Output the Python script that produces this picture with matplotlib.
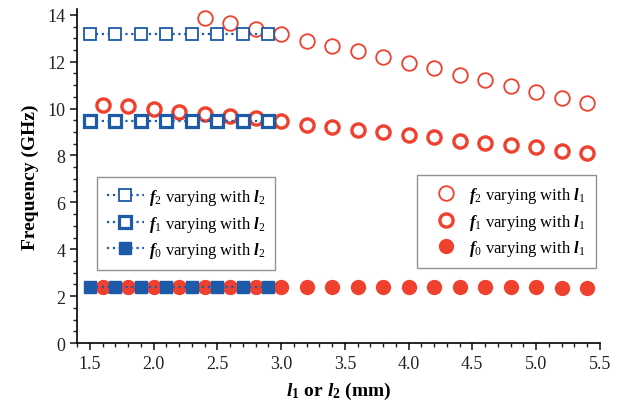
import matplotlib
matplotlib.use("Agg")
import matplotlib.pyplot as plt
from matplotlib.ticker import MultipleLocator

plt.rcParams['font.family'] = ['Liberation Serif', 'DejaVu Serif']
plt.rcParams['mathtext.fontset'] = 'custom'
plt.rcParams['mathtext.rm'] = 'Liberation Serif'
plt.rcParams['mathtext.it'] = 'Liberation Serif:italic'
plt.rcParams['mathtext.bf'] = 'Liberation Serif:bold'
plt.rcParams['mathtext.bfit'] = 'Liberation Serif:italic:bold'

# ---- data ----
l2 = [1.5, 1.7, 1.9, 2.1, 2.3, 2.5, 2.7, 2.9]
f2_l2 = [13.19, 13.19, 13.19, 13.19, 13.19, 13.19, 13.19, 13.19]
f1_l2 = [9.45, 9.45, 9.45, 9.45, 9.45, 9.45, 9.45, 9.45]
f0_l2 = [2.40, 2.40, 2.40, 2.40, 2.40, 2.40, 2.40, 2.40]

l1_f2 = [2.4, 2.6, 2.8, 3.0, 3.2, 3.4, 3.6, 3.8, 4.0, 4.2, 4.4, 4.6, 4.8, 5.0, 5.2, 5.4]
f2_l1 = [13.86, 13.64, 13.40, 13.19, 12.90, 12.67, 12.44, 12.18, 11.95, 11.71,
         11.45, 11.22, 10.96, 10.72, 10.46, 10.23]
l1 = [1.6, 1.8, 2.0, 2.2, 2.4, 2.6, 2.8, 3.0, 3.2, 3.4, 3.6, 3.8, 4.0, 4.2, 4.4,
      4.6, 4.8, 5.0, 5.2, 5.4]
f1_l1 = [10.16, 10.09, 9.99, 9.87, 9.76, 9.67, 9.59, 9.45, 9.30, 9.22, 9.08,
         8.99, 8.89, 8.78, 8.63, 8.55, 8.45, 8.34, 8.21, 8.11]
f0_l1 = [2.40, 2.40, 2.39, 2.39, 2.39, 2.39, 2.38, 2.38, 2.38, 2.38, 2.38,
         2.38, 2.38, 2.37, 2.37, 2.37, 2.37, 2.37, 2.36, 2.36]

blue = '#1d5aa8'
red = '#f0402e'

fig = plt.figure(figsize=(6.25, 4.14), dpi=100)
ax = fig.add_axes([0.1236, 0.169, 0.836, 0.807])

# red series (markers only)
r2, = ax.plot(l1_f2, f2_l1, ls='none', marker='o', ms=10.5, mfc='white', mec=red, mew=1.3, zorder=2)
r1, = ax.plot(l1, f1_l1, ls='none', marker='o', ms=9.5, mfc='white', mec=red, mew=2.4, zorder=2)
r0, = ax.plot(l1, f0_l1, ls='none', marker='o', ms=10, mfc=red, mec=red, mew=1, zorder=2)

# blue series (dotted line + squares)
b2, = ax.plot(l2, f2_l2, ls=':', lw=1.6, color=blue, marker='s', ms=8.5, mfc='white', mec=blue, mew=1.3, zorder=3)
b1, = ax.plot(l2, f1_l2, ls=':', lw=1.6, color=blue, marker='s', ms=8.5, mfc='white', mec=blue, mew=2.3, zorder=3)
b0, = ax.plot(l2, f0_l2, ls=':', lw=1.6, color=blue, marker='s', ms=8.5, mfc=blue, mec=blue, mew=1, zorder=3)

ax.set_xlim(1.4, 5.5)
ax.set_ylim(0, 14.25)
ax.xaxis.set_major_locator(MultipleLocator(0.5))
ax.xaxis.set_minor_locator(MultipleLocator(0.1))
ax.yaxis.set_major_locator(MultipleLocator(2))
ax.yaxis.set_minor_locator(MultipleLocator(0.5))
ax.xaxis.set_major_formatter(matplotlib.ticker.FormatStrFormatter('%.1f'))

for s in ['top', 'right']:
    ax.spines[s].set_visible(False)
for s in ['left', 'bottom']:
    ax.spines[s].set_linewidth(1.2)
ax.tick_params(which='major', direction='out', length=5, width=1.2, labelsize=13, colors='#222222')
ax.tick_params(which='minor', direction='out', length=3, width=1.0, colors='#222222')

ax.set_ylabel('Frequency (GHz)', fontsize=14, fontweight='bold', labelpad=6)
ax.set_xlabel(r'$\mathbfit{l}_{\mathbf{1}}$ or $\mathbfit{l}_{\mathbf{2}}$ (mm)',
              fontsize=14, fontweight='bold', labelpad=6)

lab_l2 = [r'$\mathbfit{f}_{\mathregular{2}}$ varying with $\mathbfit{l}_{\mathregular{2}}$',
          r'$\mathbfit{f}_{\mathregular{1}}$ varying with $\mathbfit{l}_{\mathregular{2}}$',
          r'$\mathbfit{f}_{\mathregular{0}}$ varying with $\mathbfit{l}_{\mathregular{2}}$']
lab_l1 = [r'$\mathbfit{f}_{\mathregular{2}}$ varying with $\mathbfit{l}_{\mathregular{1}}$',
          r'$\mathbfit{f}_{\mathregular{1}}$ varying with $\mathbfit{l}_{\mathregular{1}}$',
          r'$\mathbfit{f}_{\mathregular{0}}$ varying with $\mathbfit{l}_{\mathregular{1}}$']

leg1 = ax.legend([b2, b1, b0], lab_l2, loc='upper left', bbox_to_anchor=(0.038, 0.497),
                 fontsize=12, frameon=True, fancybox=False, edgecolor='#777777',
                 handlelength=2.2, handletextpad=0.3, labelspacing=0.4, borderpad=0.6,
                 numpoints=1, borderaxespad=0)
leg1.get_frame().set_linewidth(1.0)
ax.add_artist(leg1)
leg2 = ax.legend([r2, r1, r0], lab_l1, loc='upper right', bbox_to_anchor=(0.992, 0.503),
                 fontsize=12, frameon=True, fancybox=False, edgecolor='#777777',
                 handlelength=2.2, handletextpad=0.3, labelspacing=0.4, borderpad=0.6,
                 numpoints=1, borderaxespad=0)
leg2.get_frame().set_linewidth(1.0)

fig.savefig('out.png', dpi=100)
